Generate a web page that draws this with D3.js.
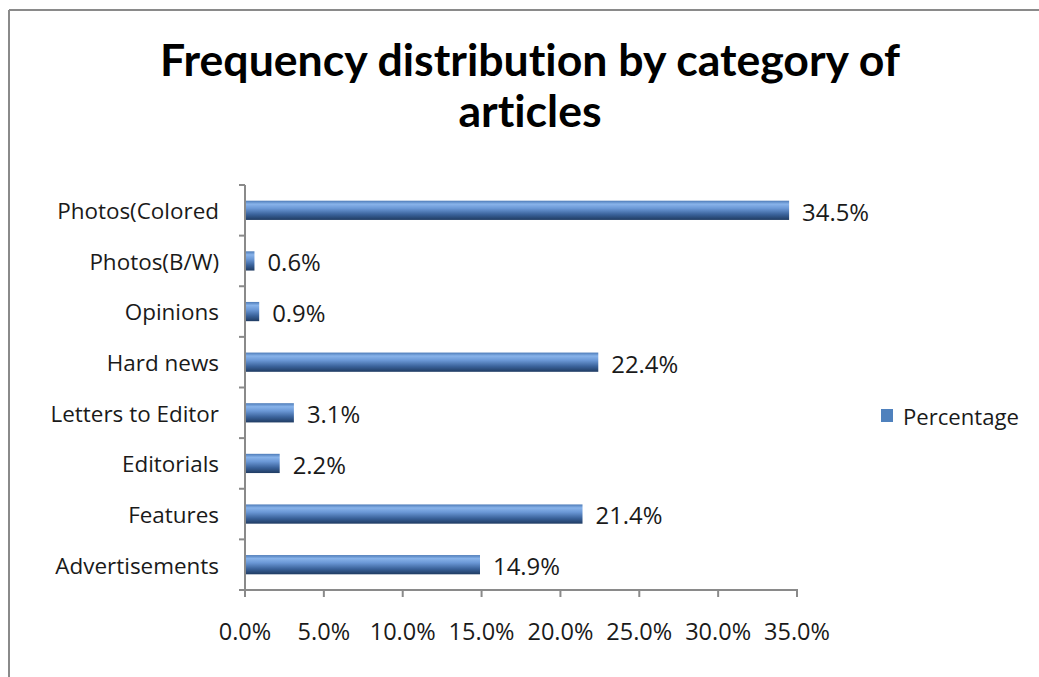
<!DOCTYPE html>
<html>
<head>
<meta charset="utf-8">
<script src="https://cdn.jsdelivr.net/npm/d3@7"></script>
<style>
html,body{margin:0;padding:0;background:#fff;}
svg{display:block;}
text{font-variant-ligatures:none;font-feature-settings:"liga" 0,"clig" 0;}
</style>
</head>
<body>
<svg id="chart" width="1039" height="677"></svg>
<script>
// ---- data ----
const categories = ["Advertisements","Features","Editorials","Letters to Editor","Hard news","Opinions","Photos(B/W)","Photos(Colored"];
const percentages = [14.9, 21.4, 2.2, 3.1, 22.4, 0.9, 0.6, 34.5];
const xTicks = [0, 5, 10, 15, 20, 25, 30, 35];
const seriesName = "Percentage";
const titleLines = ["Frequency distribution by category of", "articles"];

const svg = d3.select("#chart");
const FONT = "'Open Sans', Lato, sans-serif";

function fit(sel, target) {
  const n = sel.node();
  const fs = parseFloat(sel.attr("font-size"));
  const w = n.getComputedTextLength();
  const nfs = fs * target / w;
  sel.attr("font-size", nfs);
  return nfs;
}

// border
svg.append("line").attr("x1",9).attr("x2",1039).attr("y1",10).attr("y2",10).attr("stroke","#8a8a8a").attr("stroke-width",2);
svg.append("line").attr("x1",9).attr("x2",9).attr("y1",10).attr("y2",677).attr("stroke","#8a8a8a").attr("stroke-width",2);

// gradient
const defs = svg.append("defs");
const g = defs.append("linearGradient").attr("id","barGrad").attr("x1",0).attr("y1",0).attr("x2",0).attr("y2",1);
[[0,"#4d7bb8"],[0.18,"#88b3ea"],[0.4,"#6b98d6"],[0.72,"#3a629a"],[1,"#1f3b62"]].forEach(([o,c])=>g.append("stop").attr("offset",o).attr("stop-color",c));

// title
const t1 = svg.append("text").attr("x",530).attr("y",76).attr("text-anchor","middle")
  .attr("font-family","Lato, 'Open Sans', sans-serif").attr("font-weight","bold").attr("font-size",40).attr("fill","#000").text(titleLines[0]);
const tfs = fit(t1, 740);
svg.append("text").attr("x",530).attr("y",127).attr("text-anchor","middle")
  .attr("font-family","Lato, 'Open Sans', sans-serif").attr("font-weight","bold").attr("font-size",tfs).attr("fill","#000").text(titleLines[1]);

// scales
const x = d3.scaleLinear().domain([0,35]).range([245,797]);
const y = d3.scaleBand().domain(categories.slice().reverse()).range([185,590]).paddingInner(0.62).paddingOuter(0.31);

// bars
svg.append("g").selectAll("rect").data(categories).join("rect")
  .attr("x", x(0))
  .attr("y", d => y(d))
  .attr("width", (d,i) => x(percentages[i]) - x(0))
  .attr("height", y.bandwidth())
  .attr("fill","url(#barGrad)");

// y axis
const yAxisG = svg.append("g");
yAxisG.append("line").attr("x1",245).attr("x2",245).attr("y1",185).attr("y2",590).attr("stroke","#8a8a8a").attr("stroke-width",2);
const boundaries = d3.range(categories.length + 1).map(i => 185 + i * (590-185)/categories.length);
yAxisG.selectAll("line.tick").data(boundaries).join("line").attr("class","tick")
  .attr("x1",239).attr("x2",245).attr("y1",d=>d).attr("y2",d=>d).attr("stroke","#8a8a8a").attr("stroke-width",2);

// category labels
const catLabels = svg.append("g").selectAll("text").data(categories).join("text")
  .attr("x",219).attr("y", d => y(d) + y.bandwidth()/2 + 1)
  .attr("dy","0.35em").attr("text-anchor","end")
  .attr("font-family",FONT).attr("font-size",20).attr("fill","#1a1a1a").text(d=>d);
const refCat = catLabels.filter(d => d === "Photos(Colored");
const cfs = fit(refCat, 162);
catLabels.attr("font-size", cfs);

// x axis
const xAxisG = svg.append("g");
xAxisG.append("line").attr("x1",244).attr("x2",798).attr("y1",590).attr("y2",590).attr("stroke","#8a8a8a").attr("stroke-width",2);
xAxisG.selectAll("line.tick").data(xTicks).join("line").attr("class","tick")
  .attr("x1",d=>x(d)).attr("x2",d=>x(d)).attr("y1",590).attr("y2",597).attr("stroke","#8a8a8a").attr("stroke-width",2);
const xLabels = xAxisG.selectAll("text").data(xTicks).join("text")
  .attr("x",d=>x(d)).attr("y",640).attr("text-anchor","middle")
  .attr("font-family",FONT).attr("font-size",20).attr("fill","#1a1a1a").text(d=>d.toFixed(1)+"%");
const xfs = fit(xLabels.filter(d=>d===35), 66);
xLabels.attr("font-size", xfs);

// value labels
const vLabels = svg.append("g").selectAll("text").data(categories).join("text")
  .attr("x",(d,i)=>x(percentages[i]) + 13)
  .attr("y", d => y(d) + y.bandwidth()/2 + 2)
  .attr("dy","0.35em")
  .attr("font-family",FONT).attr("font-size",20).attr("fill","#1a1a1a").text((d,i)=>percentages[i].toFixed(1)+"%");
const vfs = fit(vLabels.filter(d=>d==="Photos(Colored"), 67);
vLabels.attr("font-size", vfs);

// legend
svg.append("rect").attr("x",881).attr("y",409).attr("width",12).attr("height",13).attr("fill","#4f81bd");
const lt = svg.append("text").attr("x",903).attr("y",425).attr("font-family",FONT).attr("font-size",20).attr("fill","#1a1a1a").text(seriesName);
fit(lt, 116);
</script>
</body>
</html>
